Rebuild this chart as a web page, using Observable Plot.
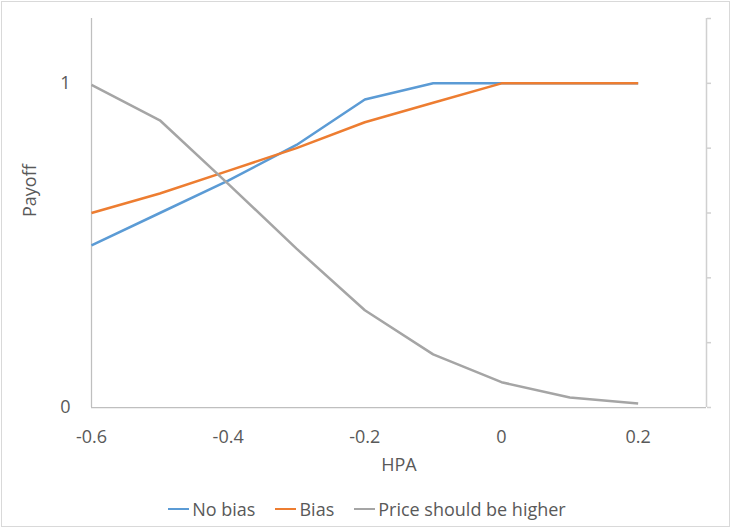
<!DOCTYPE html>
<html>
<head>
<meta charset="utf-8">
<script src="https://cdn.jsdelivr.net/npm/d3@7"></script>
<script src="https://cdn.jsdelivr.net/npm/@observablehq/plot@0.6"></script>
<style>
  html, body { margin: 0; padding: 0; background: #fff; }
  #wrap { position: relative; width: 731px; height: 528px; overflow: hidden; font-family: "Open Sans", sans-serif; }
  #wrap svg { display: block; }
  #border { position: absolute; left: 1px; top: 1px; width: 729px; height: 526px; box-sizing: border-box; border: 1px solid #D9D9D9; pointer-events: none; }
  #legend { display: flex; justify-content: center; align-items: center; height: 38px; font-size: 18px; color: #595959; padding-left: 3px; }
  .item { display: flex; align-items: center; margin: 0 10px; }
  .sw { width: 21px; height: 2.5px; margin-right: 3px; }
</style>
</head>
<body>
<div id="wrap">
  <div id="chart"></div>
  <div id="legend"></div>
  <div id="border"></div>
</div>
<script>
// HPA values along the horizontal axis
const hpa = [-0.6, -0.5, -0.4, -0.3, -0.2, -0.1, 0, 0.1, 0.2];

// Payoff series
const noBias = [0.5, 0.6, 0.7, 0.81, 0.95, 1.0, 1.0, 1.0, 1.0];
const bias = [0.6, 0.66, 0.73, 0.8, 0.88, 0.94, 1.0, 1.0, 1.0];
const priceHigher = [0.995, 0.886, 0.69, 0.49, 0.3, 0.164, 0.078, 0.031, 0.012];

const seriesNames = ["No bias", "Bias", "Price should be higher"];
const seriesColors = ["#5B9BD5", "#ED7D31", "#A5A5A5"];

// Axis ticks
const xTicks = [-0.6, -0.4, -0.2, 0, 0.2];
const yTicks = [0, 1];
const rightTicks = [0, 0.2, 0.4, 0.6, 0.8, 1.0, 1.2];

const rows = [];
[noBias, bias, priceHigher].forEach((vals, s) => {
  vals.forEach((v, i) => rows.push({series: seriesNames[s], hpa: hpa[i], payoff: v}));
});

const textColor = "#595959";
const fmtX = d => (d === 0 ? "0" : d.toFixed(1));
const fmtY = d => String(d);

const chart = Plot.plot({
  width: 731,
  height: 490,
  marginLeft: 91,
  marginRight: 25,
  marginTop: 18,
  marginBottom: 83,
  style: {fontFamily: "'Open Sans', sans-serif", fontSize: "18px", color: textColor, background: "transparent"},
  x: {domain: [-0.6, 0.3]},
  y: {domain: [0, 1.2]},
  color: {domain: seriesNames, range: seriesColors},
  marks: [
    // secondary axis on the right: line with small outward ticks, no labels
    Plot.ruleX([0.3], {stroke: "#D0D0D0", strokeWidth: 1.5}),
    Plot.axisY(rightTicks, {anchor: "right", tickSize: 4, stroke: "#D0D0D0", strokeWidth: 1.5, tickFormat: () => "", label: null}),
    // primary axes
    Plot.ruleX([-0.6], {stroke: "#BFBFBF", strokeWidth: 1.25}),
    Plot.ruleY([0], {stroke: "#BFBFBF", strokeWidth: 1.25}),
    Plot.axisY(yTicks, {anchor: "left", tickSize: 0, tickPadding: 21, tickFormat: fmtY, fill: textColor, fontSize: 18, label: null}),
    Plot.axisX(xTicks, {anchor: "bottom", tickSize: 0, tickPadding: 23, tickFormat: fmtX, fill: textColor, fontSize: 18, label: null}),
    Plot.text(["HPA"], {frameAnchor: "bottom", dy: 63, fill: textColor, fontSize: 18}),
    Plot.text(["Payoff"], {frameAnchor: "left", rotate: -90, dx: -61, dy: 4, fill: textColor, fontSize: 18}),
    // series lines
    Plot.line(rows, {x: "hpa", y: "payoff", z: "series", stroke: "series", strokeWidth: 2.5, strokeLinejoin: "round", strokeLinecap: "butt"})
  ]
});
document.getElementById("chart").appendChild(chart);

// legend below the plot
const legend = document.getElementById("legend");
seriesNames.forEach((name, i) => {
  const item = document.createElement("div");
  item.className = "item";
  const sw = document.createElement("div");
  sw.className = "sw";
  sw.style.background = seriesColors[i];
  const label = document.createElement("span");
  label.textContent = name;
  item.appendChild(sw);
  item.appendChild(label);
  legend.appendChild(item);
});
</script>
</body>
</html>
